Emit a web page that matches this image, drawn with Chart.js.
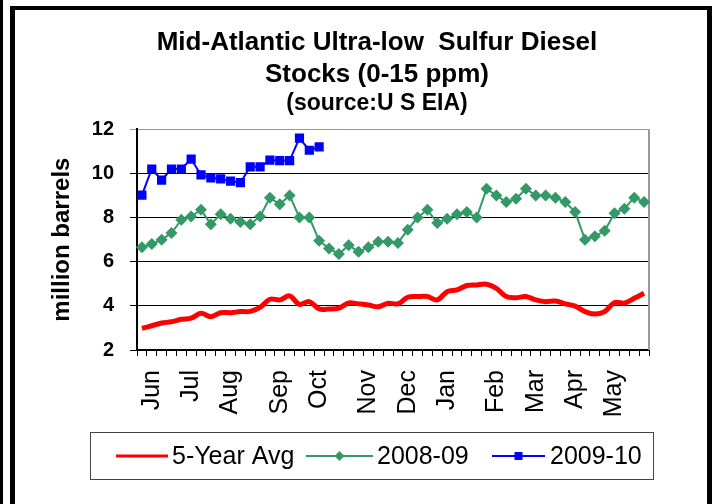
<!DOCTYPE html>
<html>
<head>
<meta charset="utf-8">
<script src="https://cdn.jsdelivr.net/npm/chart.js@4.4.0/dist/chart.umd.min.js"></script>
<style>
  body { margin: 0; background: #fff; }
  #wrap { position: relative; width: 716px; height: 504px; overflow: hidden; background: #fff; }
  #bar { position: absolute; left: 0; top: 0; width: 3px; height: 504px; background: #000; }
  #frame { position: absolute; left: 10px; top: 6px; width: 692px; height: 540px;
           border: 5px solid #000; border-top-width: 4px; border-bottom: none; }
  #c { position: absolute; left: 0; top: 0; }
</style>
</head>
<body>
<div id="wrap">
  <div id="bar"></div>
  <div id="frame"></div>
  <canvas id="c" width="716" height="504"></canvas>
</div>
<script>
// weekly points, June to May (52 weeks)
var monthNames = ['Jun','Jul','Aug','Sep','Oct','Nov','Dec','Jan','Feb','Mar','Apr','May'];
var monthWeek  = [1, 5, 9, 14, 18, 23, 27, 31, 36, 40, 44, 48];
var weekCount = 52;

var fiveYearAvg = [2.98, 3.1, 3.22, 3.28, 3.39, 3.44, 3.66, 3.51, 3.69, 3.69,
                   3.74, 3.75, 3.93, 4.3, 4.27, 4.45, 4.07, 4.19, 3.86, 3.86,
                   3.9, 4.13, 4.09, 4.04, 3.96, 4.12, 4.09, 4.39, 4.42, 4.42,
                   4.27, 4.64, 4.72, 4.92, 4.95, 4.98, 4.79, 4.42, 4.37, 4.42,
                   4.27, 4.19, 4.22, 4.09, 3.99, 3.74, 3.63, 3.74, 4.15, 4.12,
                   4.34, 4.57];
var stocks0809 = [6.65, 6.8, 7.0, 7.3, 7.9, 8.05, 8.35, 7.7, 8.15, 7.95,
                  7.8, 7.7, 8.05, 8.9, 8.6, 9.0, 8.0, 8.0, 6.95, 6.6,
                  6.35, 6.75, 6.45, 6.65, 6.9, 6.9, 6.85, 7.45, 8.0, 8.35,
                  7.75, 7.95, 8.15, 8.25, 8.0, 9.3, 9.0, 8.7, 8.85, 9.3,
                  9.0, 9.0, 8.9, 8.7, 8.25, 7.0, 7.15, 7.4, 8.2, 8.4,
                  8.9, 8.7];
var stocks0910 = [9.02, 10.2, 9.7, 10.2, 10.2, 10.65, 9.93, 9.8, 9.75, 9.65,
                  9.58, 10.3, 10.3, 10.6, 10.58, 10.58, 11.6, 11.05, 11.2];

var yTicks = [2, 4, 6, 8, 10, 12];

var labels = [];
for (var i = 0; i < weekCount; i++) labels.push('');
monthWeek.forEach(function(w, k) { labels[w] = monthNames[k]; });

var FONT = "'Liberation Sans', Arial, sans-serif";

// legend in a box under the axis labels
var boxLegend = {
  id: 'boxLegend',
  afterDraw: function(chart) {
    var ctx = chart.ctx;
    var y = 456;
    var slots = [[116, 168, 172], [306, 373, 377], [492, 545, 550]];
    ctx.save();
    ctx.strokeStyle = '#444';
    ctx.lineWidth = 1;
    ctx.strokeRect(90.5, 432.5, 563, 47);
    chart.data.datasets.forEach(function(ds, i) {
      var s = slots[i];
      ctx.strokeStyle = ds.borderColor;
      ctx.lineWidth = i == 0 ? 3 : 2;
      ctx.beginPath();
      ctx.moveTo(s[0], y);
      ctx.lineTo(s[1], y);
      ctx.stroke();
      var cx = (s[0] + s[1]) / 2;
      ctx.fillStyle = ds.borderColor;
      if (ds.pointStyle == 'rectRot') {
        ctx.beginPath();
        ctx.moveTo(cx, y - 5); ctx.lineTo(cx + 5, y); ctx.lineTo(cx, y + 5); ctx.lineTo(cx - 5, y);
        ctx.closePath();
        ctx.fill();
      } else if (ds.pointStyle == 'rect') {
        ctx.fillRect(cx - 4, y - 4, 8, 8);
      }
      ctx.fillStyle = '#000';
      ctx.font = '25px ' + FONT;
      ctx.textBaseline = 'middle';
      ctx.textAlign = 'left';
      ctx.fillText(ds.label, s[2], y + 1);
    });
    ctx.restore();
  }
};

// the title sits centred over x 105..649, not over the whole canvas
var centerTitle = {
  id: 'centerTitle',
  afterLayout: function(chart) {
    chart.boxes.forEach(function(b) {
      if (b.position === 'top') { b.left = 105; b.right = 649; b.width = 544; }
    });
  }
};

// gray right edge of the plot
var plotEdge = {
  id: 'plotEdge',
  beforeDatasetsDraw: function(chart) {
    var a = chart.chartArea, ctx = chart.ctx;
    ctx.save();
    ctx.strokeStyle = '#999';
    ctx.lineWidth = 2;
    ctx.beginPath();
    ctx.moveTo(a.right, a.top);
    ctx.lineTo(a.right, a.bottom);
    ctx.stroke();
    ctx.restore();
  }
};

new Chart(document.getElementById('c'), {
  type: 'line',
  data: {
    labels: labels,
    datasets: [
      { label: '5-Year Avg', data: fiveYearAvg, borderColor: '#ff0000', backgroundColor: '#ff0000',
        borderWidth: 5, pointRadius: 0, tension: 0.35, order: 3 },
      { label: '2008-09', data: stocks0809, borderColor: '#339966', backgroundColor: '#339966',
        borderWidth: 2, pointStyle: 'rectRot', pointRadius: 6, pointBorderWidth: 0, order: 2 },
      { label: '2009-10', data: stocks0910, borderColor: '#0000ff', backgroundColor: '#0000ff',
        borderWidth: 2, pointStyle: 'rect', pointRadius: 6.5, pointBorderWidth: 0, order: 1 }
    ]
  },
  options: {
    responsive: false,
    animation: false,
    devicePixelRatio: 1,
    layout: { padding: { top: 20, left: 0, right: 67, bottom: 0 } },
    plugins: {
      legend: { display: false },
      tooltip: { enabled: false },
      title: {
        display: true,
        text: ['Mid-Atlantic Ultra-low  Sulfur Diesel', 'Stocks (0-15 ppm)'],
        color: '#000',
        font: { family: FONT, size: 26, weight: 'bold', lineHeight: 1.23 },
        padding: { top: 7, bottom: 0 }
      },
      subtitle: {
        display: true,
        text: '(source:U S EIA)',
        color: '#000',
        font: { family: FONT, size: 23, weight: 'bold', lineHeight: 1.1 },
        padding: { top: 0, bottom: 13 }
      }
    },
    scales: {
      x: {
        offset: true,
        afterFit: function(s) { s.height = 154; },
        border: { display: true, color: '#000', width: 2 },
        grid: { offset: true, drawOnChartArea: false, drawTicks: true, tickLength: 6, color: '#000' },
        ticks: { autoSkip: false, maxRotation: 90, minRotation: 90, padding: 14, color: '#000',
                 font: { family: FONT, size: 25 } }
      },
      y: {
        min: 2, max: 12,
        afterFit: function(s) { s.width = 137; },
        afterBuildTicks: function(s) { s.ticks = yTicks.map(function(v) { return { value: v }; }); },
        border: { display: true, color: '#000', width: 2 },
        grid: { color: function(c) { return c.tick && c.tick.value == 12 ? '#999' : '#000'; },
                lineWidth: 1, tickLength: 7 },
        ticks: { padding: 16, color: '#000', font: { family: FONT, size: 20, weight: 'bold' } },
        title: { display: true, text: 'million barrels', color: '#000',
                 padding: { top: 48, bottom: 0 },
                 font: { family: FONT, size: 24, weight: 'bold', lineHeight: 1.2 } }
      }
    }
  },
  plugins: [boxLegend, centerTitle, plotEdge]
});
</script>
</body>
</html>
